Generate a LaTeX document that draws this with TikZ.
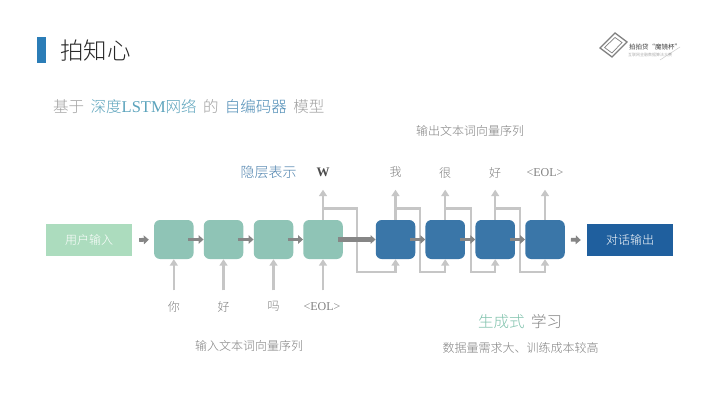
\documentclass[tikz,border=0pt]{standalone}
\usepackage{fontspec}
\setmainfont{Liberation Serif}
\newfontfamily\cjk{Noto Sans CJK SC Light}
\newfontfamily\cjkreg{Noto Sans CJK SC}
\usetikzlibrary{arrows.meta}
\definecolor{barc}{HTML}{2B7DB7}
\definecolor{tealc}{HTML}{8FC4B6}
\definecolor{bluec}{HTML}{3A76A8}
\definecolor{inc}{HTML}{ACDCBE}
\definecolor{outc}{HTML}{1F5F9E}
\definecolor{linkc}{HTML}{C6C6C6}
\definecolor{flowc}{HTML}{868686}
\definecolor{txt}{HTML}{808080}
\definecolor{subg}{HTML}{A0A0A0}
\definecolor{hlA}{HTML}{5BA3BC}
\definecolor{hlB}{HTML}{4C8BB5}
\definecolor{hid}{HTML}{4F83AE}
\definecolor{gen}{HTML}{7FC2AC}
\tikzset{
  x=1pt,y=-1pt,
  cell/.style={minimum width=39.5pt,minimum height=39pt,rounded corners=6pt,inner sep=0pt,draw=none},
  tcell/.style={cell,fill=tealc},
  bcell/.style={cell,fill=bluec},
  flat/.style={minimum width=86pt,minimum height=31.5pt,inner sep=0pt,text=white,font=\cjk\fontsize{12}{12}\selectfont},
  toplab/.style={minimum height=34pt,inner sep=0pt,text=txt,font=\cjk\fontsize{12}{12}\selectfont},
  botlab/.style={minimum height=32pt,inner sep=0pt,text=txt,font=\cjk\fontsize{12}{12}\selectfont},
  eol/.style={font=\fontsize{12}{12}\selectfont},
  caption/.style={inner sep=0pt,text=txt,font=\cjk\fontsize{12}{12}\selectfont},
  link/.style={draw=linkc,line width=2.3pt,-{Triangle[length=6.5pt,width=8pt]},line join=miter},
  flow/.style={draw=flowc,line width=3.8pt,-{Triangle[length=5pt,width=8.5pt]}},
  logol/.style={draw=black!50,line width=1.3pt},
}
\begin{document}
\begin{tikzpicture}
\useasboundingbox (0,0) rectangle (720,405);
\fill[white] (0,0) rectangle (720,405);
% header
\node[fill=barc,minimum width=8.5pt,minimum height=26pt,inner sep=0pt] (headbar) at (41.7,49.5) {};
\node[anchor=west,inner sep=0pt,text=black!85,font=\cjk\fontsize{23.5}{23.5}\selectfont] (title) at (60,50.5) {拍知心};
\node[anchor=west,inner sep=0pt,text=subg,font=\cjk\fontsize{15.5}{15.5}\selectfont] (sub) at (53,107)
  {基于\hspace{6.5pt}\textcolor{hlA}{深度{\rmfamily\fontsize{16.5}{16.5}\selectfont LSTM}网络}\hspace{6.3pt}的\hspace{6.3pt}\textcolor{hlB}{自编码器}\hspace{6.5pt}模型};
% logo
\draw[logol] (615,33) -- (627,42) -- (612,57) -- (600,48) -- cycle;
\draw[logol,line width=0.7pt] (615,37.5) -- (622,42.5) -- (612,53) -- (604.5,47.5) -- cycle;
\draw[black!20,line width=0.5pt] (660,60) -- (680,47);
\node[anchor=west,inner sep=0pt,text=black!75,font=\cjkreg\fontsize{6.5}{6.5}\selectfont] (logot) at (629,47) {拍拍贷“魔镜杯”};
\node[anchor=west,inner sep=0pt,text=black!45,font=\cjk\fontsize{4}{4}\selectfont] (logos) at (628,55) {互联网金融数据算法大赛};
% flat boxes
\node[flat,fill=inc] (in) at (89,240.2) {用户输入};
\node[flat,fill=outc] (out) at (630,240.2) {对话输出};
% cells
\node[tcell] (t1) at (173.8,239.5) {};
\node[tcell] (t2) at (223.5,239.5) {};
\node[tcell] (t3) at (273.5,239.5) {};
\node[tcell] (t4) at (323,239.5) {};
\node[bcell] (b1) at (395.5,239.5) {};
\node[bcell] (b2) at (445.2,239.5) {};
\node[bcell] (b3) at (495.2,239.5) {};
\node[bcell] (b4) at (545,239.5) {};
% labels
\node[inner sep=0pt,text=hid,font=\cjk\fontsize{14}{14}\selectfont] (hidden) at (268.5,172) {隐层表示};
\node[toplab,text=black!70,font=\bfseries\fontsize{13}{13}\selectfont] (w) at (323,172.5) {W};
\node[toplab] (o1) at (395.5,172.5) {我};
\node[toplab] (o2) at (445.2,172.5) {很};
\node[toplab] (o3) at (495.2,172.5) {好};
\node[toplab,eol] (o4) at (545,172.5) {<EOL>};
\node[botlab] (i1) at (173.8,306.5) {你};
\node[botlab] (i2) at (223.5,306.5) {好};
\node[botlab] (i3) at (273.5,306.5) {吗};
\node[botlab,eol] (i4) at (322,306.5) {<EOL>};
\node[caption] (capo) at (470,131) {输出文本词向量序列};
\node[caption] (capi) at (249,346) {输入文本词向量序列};
\node[inner sep=0pt,font=\cjk\fontsize{15.5}{15.5}\selectfont,text=txt] (gens) at (520,322) {\textcolor{gen}{生成式}\hspace{6.5pt}学习};
\node[caption] (cap3) at (520.5,348) {数据量需求大、训练成本较高};
% bus levels
\coordinate (hi) at (0,208.5);
\coordinate (lo) at (0,272);
\coordinate (g1) at (357,272);
\coordinate (g2) at (420,272);
\coordinate (g3) at (471,272);
\coordinate (g4) at (520,272);
% light connectors
\foreach \cc/\ll in {t1/i1,t2/i2,t3/i3,t4/i4}{\draw[link] (\ll.north -| \cc.south) -- (\cc.south);}
\foreach \cc/\ll in {t4/w,b1/o1,b2/o2,b3/o3,b4/o4}{\draw[link] (\cc.north) -- (\ll.south);}
\draw[link] (t4.north) -- (t4.north |- hi) -- (g1 |- hi) -- (g1) -- (b1.south |- lo) -- (b1.south);
\draw[link] (b1.north) -- (b1.north |- hi) -- (g2 |- hi) -- (g2) -- (b2.south |- lo) -- (b2.south);
\draw[link] (b2.north) -- (b2.north |- hi) -- (g3 |- hi) -- (g3) -- (b3.south |- lo) -- (b3.south);
\draw[link] (b3.north) -- (b3.north |- hi) -- (g4 |- hi) -- (g4) -- (b4.south |- lo) -- (b4.south);
% heavy connectors
\draw[flow,shorten <=7pt,shorten >=5pt] (in.east) -- (t1.west);
\foreach \aa/\bb in {t1/t2,t2/t3,t3/t4,b1/b2,b2/b3,b3/b4}{\draw[flow,shorten <=-5.5pt] (\aa.east) -- (\bb.west);}
\draw[flow,line width=4.5pt,shorten <=-5pt] (t4.east) -- (b1.west);
\draw[flow,shorten <=6pt,shorten >=6pt] (b4.east) -- (out.west);
\end{tikzpicture}
\end{document}
